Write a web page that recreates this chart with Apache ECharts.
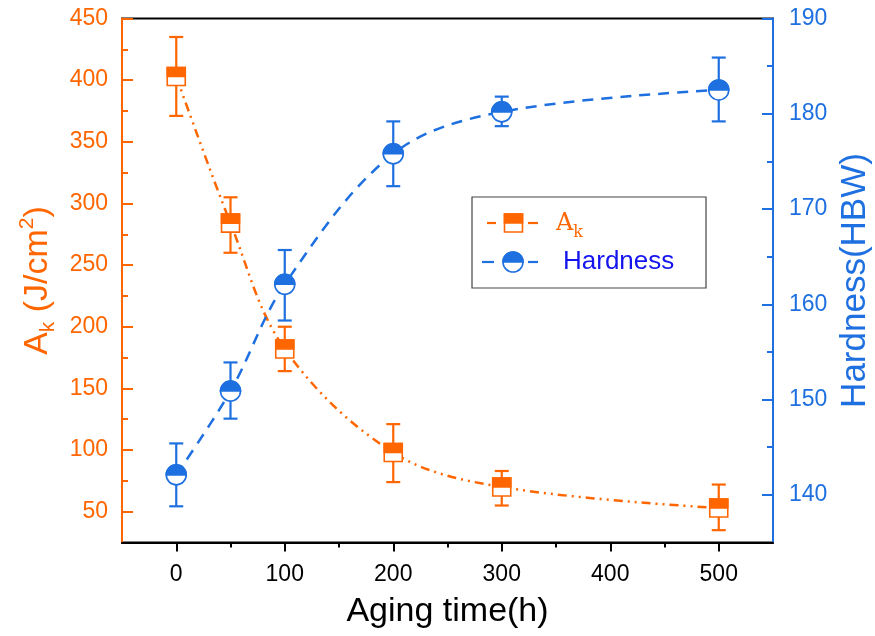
<!DOCTYPE html>
<html>
<head>
<meta charset="utf-8">
<script src="https://cdn.jsdelivr.net/npm/echarts@6/dist/echarts.min.js"></script>
<style>html,body{margin:0;padding:0;background:#fff}#chart{width:875px;height:636px}</style>
</head>
<body>
<div id="chart"></div>
<script>
// ---- data ----
const agingTime = [0, 50, 100, 200, 300, 500];
const akValues = [403, 284, 182, 98, 70, 53];
const akErrLow = [371, 260, 164, 74, 55, 35];
const akErrHigh = [435, 305, 200, 121, 83, 72];
const hardness = [142.1, 150.9, 162.1, 175.8, 180.2, 182.5];
const hardErrLow = [138.8, 148.0, 158.3, 172.4, 178.7, 179.2];
const hardErrHigh = [145.4, 153.9, 165.7, 179.2, 181.8, 185.9];
const xTickLabels = [0, 100, 200, 300, 400, 500];
const xMinorTicks = [50, 150, 250, 350, 450];
const akTickLabels = [50, 100, 150, 200, 250, 300, 350, 400, 450];
const akMinorTicks = [75, 125, 175, 225, 275, 325, 375, 425];
const hardTickLabels = [140, 150, 160, 170, 180, 190];
const hardMinorTicks = [145, 155, 165, 175, 185];

const ORANGE = '#FF6600';
const BLUE = '#1E70E0';
const FONT = 'Liberation Sans, Arial, sans-serif';

const chart = echarts.init(document.getElementById('chart'));

const akLine = agingTime.map((x, i) => [x, akValues[i]]);
const hardLine = agingTime.map((x, i) => [x, hardness[i]]);
const akErr = agingTime.map((x, i) => [x, akErrLow[i], akErrHigh[i]]);
const hardErr = agingTime.map((x, i) => [x, hardErrLow[i], hardErrHigh[i]]);

function errRender(color) {
  return function (params, api) {
    const x = api.value(0);
    const lo = api.coord([x, api.value(1)]);
    const hi = api.coord([x, api.value(2)]);
    const w = 7;
    const st = { stroke: color, lineWidth: 2.2 };
    return {
      type: 'group',
      children: [
        { type: 'line', shape: { x1: lo[0], y1: lo[1], x2: hi[0], y2: hi[1] }, style: st },
        { type: 'line', shape: { x1: lo[0] - w, y1: lo[1], x2: lo[0] + w, y2: lo[1] }, style: st },
        { type: 'line', shape: { x1: hi[0] - w, y1: hi[1], x2: hi[0] + w, y2: hi[1] }, style: st }
      ]
    };
  };
}

function squareRender(params, api) {
  const p = api.coord([api.value(0), api.value(1)]);
  const s = 18;
  return {
    type: 'group',
    children: [
      { type: 'rect', shape: { x: p[0] - s / 2, y: p[1] - s / 2, width: s, height: s }, style: { fill: '#fff', stroke: ORANGE, lineWidth: 1.6 } },
      { type: 'rect', shape: { x: p[0] - s / 2, y: p[1] - s / 2, width: s, height: s * 0.5 }, style: { fill: ORANGE, stroke: ORANGE, lineWidth: 1.6 } }
    ]
  };
}

function circleRender(params, api) {
  const p = api.coord([api.value(0), api.value(1)]);
  const r = 10;
  return {
    type: 'group',
    children: [
      { type: 'circle', shape: { cx: p[0], cy: p[1], r: r }, style: { fill: '#fff', stroke: BLUE, lineWidth: 1.6 } },
      { type: 'sector', shape: { cx: p[0], cy: p[1], r0: 0, r: r, startAngle: Math.PI, endAngle: 2 * Math.PI, clockwise: true }, style: { fill: BLUE, stroke: BLUE, lineWidth: 1.6 } }
    ]
  };
}

const option = {
  animation: false,
  backgroundColor: '#fff',
  grid: { left: 122, right: 102, top: 18.5, bottom: 93.5, outerBoundsMode: 'none', containLabel: false, show: true, borderColor: '#000', borderWidth: 2, backgroundColor: 'transparent' },
  xAxis: [
    {
      type: 'value', min: -50, max: 550, position: 'bottom',
      axisLine: { onZero: false, lineStyle: { color: '#000', width: 2 } },
      axisTick: { show: true, inside: false, length: 9, customValues: xTickLabels, lineStyle: { color: '#000', width: 2 } },
      axisLabel: { customValues: xTickLabels, color: '#000', fontSize: 23, fontFamily: FONT, margin: 21 },
      splitLine: { show: false },
      name: 'Aging time(h)', nameLocation: 'middle', nameGap: 52,
      nameTextStyle: { fontSize: 34, color: '#000', fontFamily: FONT }
    },
    {
      type: 'value', min: -50, max: 550, position: 'bottom',
      axisLine: { show: false, onZero: false },
      axisTick: { show: true, inside: false, length: 5, customValues: xMinorTicks, lineStyle: { color: '#000', width: 2 } },
      axisLabel: { show: false },
      splitLine: { show: false }
    }
  ],
  yAxis: [
    {
      type: 'value', min: 25, max: 450, position: 'left',
      axisLine: { show: true, onZero: false, lineStyle: { color: ORANGE, width: 2 } },
      axisTick: { show: true, inside: true, length: 11, customValues: akTickLabels, lineStyle: { color: ORANGE, width: 2 } },
      axisLabel: { customValues: akTickLabels, color: ORANGE, fontSize: 23, fontFamily: FONT, margin: 14 },
      splitLine: { show: false },
      name: 'A{sub|k} (J/cm{sup|2})', nameLocation: 'middle', nameRotate: 90, nameGap: 64,
      nameTextStyle: {
        fontSize: 34, color: ORANGE, fontFamily: FONT, lineHeight: 42, verticalAlign: 'middle',
        rich: {
          sub: { fontSize: 21, color: ORANGE, fontFamily: FONT, verticalAlign: 'bottom', lineHeight: 42 },
          sup: { fontSize: 21, color: ORANGE, fontFamily: FONT, verticalAlign: 'top', lineHeight: 42 }
        }
      }
    },
    {
      type: 'value', min: 25, max: 450, position: 'left',
      axisLine: { show: false, onZero: false },
      axisTick: { show: true, inside: true, length: 6, customValues: akMinorTicks, lineStyle: { color: ORANGE, width: 2 } },
      axisLabel: { show: false },
      splitLine: { show: false }
    },
    {
      type: 'value', min: 135, max: 190, position: 'right',
      axisLine: { show: true, onZero: false, lineStyle: { color: BLUE, width: 2 } },
      axisTick: { show: true, inside: true, length: 11, customValues: hardTickLabels, lineStyle: { color: BLUE, width: 2 } },
      axisLabel: { customValues: hardTickLabels, color: BLUE, fontSize: 23, fontFamily: FONT, margin: 16 },
      splitLine: { show: false },
      name: 'Hardness(HBW)', nameLocation: 'middle', nameRotate: 90, nameGap: 62,
      nameTextStyle: { fontSize: 35, color: BLUE, fontFamily: FONT }
    },
    {
      type: 'value', min: 135, max: 190, position: 'right',
      axisLine: { show: false, onZero: false },
      axisTick: { show: true, inside: true, length: 6, customValues: hardMinorTicks, lineStyle: { color: BLUE, width: 2 } },
      axisLabel: { show: false },
      splitLine: { show: false }
    }
  ],
  series: [
    {
      name: 'Ak', type: 'line', xAxisIndex: 0, yAxisIndex: 0, data: akLine, smooth: 0.35, symbol: 'none', z: 2,
      lineStyle: { color: ORANGE, width: 2.5, type: [9, 5, 2, 5, 2, 5] }
    },
    {
      name: 'Hardness', type: 'line', xAxisIndex: 0, yAxisIndex: 2, data: hardLine, smooth: 0.35, symbol: 'none', z: 2,
      lineStyle: { color: BLUE, width: 2.5, type: [11, 8] }
    },
    { type: 'custom', xAxisIndex: 0, yAxisIndex: 0, data: akErr, renderItem: errRender(ORANGE), encode: { x: 0, y: [1, 2] }, z: 3, silent: true },
    { type: 'custom', xAxisIndex: 0, yAxisIndex: 2, data: hardErr, renderItem: errRender(BLUE), encode: { x: 0, y: [1, 2] }, z: 3, silent: true },
    { type: 'custom', xAxisIndex: 0, yAxisIndex: 0, data: akLine, renderItem: squareRender, encode: { x: 0, y: 1 }, z: 4, silent: true },
    { type: 'custom', xAxisIndex: 0, yAxisIndex: 2, data: hardLine, renderItem: circleRender, encode: { x: 0, y: 1 }, z: 4, silent: true }
  ],
  graphic: [
    { type: 'rect', z: 10, shape: { x: 472, y: 197, width: 234, height: 91 }, style: { fill: '#fff', stroke: '#444', lineWidth: 1.2 } },
    { type: 'line', z: 11, shape: { x1: 487, y1: 223, x2: 496, y2: 223 }, style: { stroke: ORANGE, lineWidth: 2.2 } },
    { type: 'line', z: 11, shape: { x1: 528, y1: 223, x2: 538, y2: 223 }, style: { stroke: ORANGE, lineWidth: 2.2 } },
    { type: 'rect', z: 11, shape: { x: 504.5, y: 214, width: 18, height: 18 }, style: { fill: '#fff', stroke: ORANGE, lineWidth: 1.6 } },
    { type: 'rect', z: 12, shape: { x: 504.5, y: 214, width: 18, height: 9 }, style: { fill: ORANGE, stroke: ORANGE, lineWidth: 1.6 } },
    {
      type: 'text', z: 12, x: 556, y: 224,
      style: {
        text: 'A{k|k}', fill: ORANGE, font: '24px "DejaVu Serif", serif', verticalAlign: 'middle', textAlign: 'left',
        rich: { k: { fontSize: 16, fontFamily: 'DejaVu Serif', fill: ORANGE, verticalAlign: 'bottom', lineHeight: 34, padding: [12, 0, 0, 0] } }
      }
    },
    { type: 'line', z: 11, shape: { x1: 482, y1: 262, x2: 494, y2: 262 }, style: { stroke: BLUE, lineWidth: 2.2 } },
    { type: 'line', z: 11, shape: { x1: 528, y1: 262, x2: 538, y2: 262 }, style: { stroke: BLUE, lineWidth: 2.2 } },
    { type: 'circle', z: 11, shape: { cx: 513, cy: 262, r: 10 }, style: { fill: '#fff', stroke: BLUE, lineWidth: 1.6 } },
    { type: 'sector', z: 12, shape: { cx: 513, cy: 262, r0: 0, r: 10, startAngle: Math.PI, endAngle: 2 * Math.PI, clockwise: true }, style: { fill: BLUE, stroke: BLUE, lineWidth: 1.6 } },
    {
      type: 'text', z: 12, x: 563, y: 262,
      style: { text: 'Hardness', fill: '#1414EE', font: '26px "Liberation Sans", Arial, sans-serif', verticalAlign: 'middle', textAlign: 'left' }
    }
  ]
};

chart.setOption(option);
</script>
</body>
</html>
